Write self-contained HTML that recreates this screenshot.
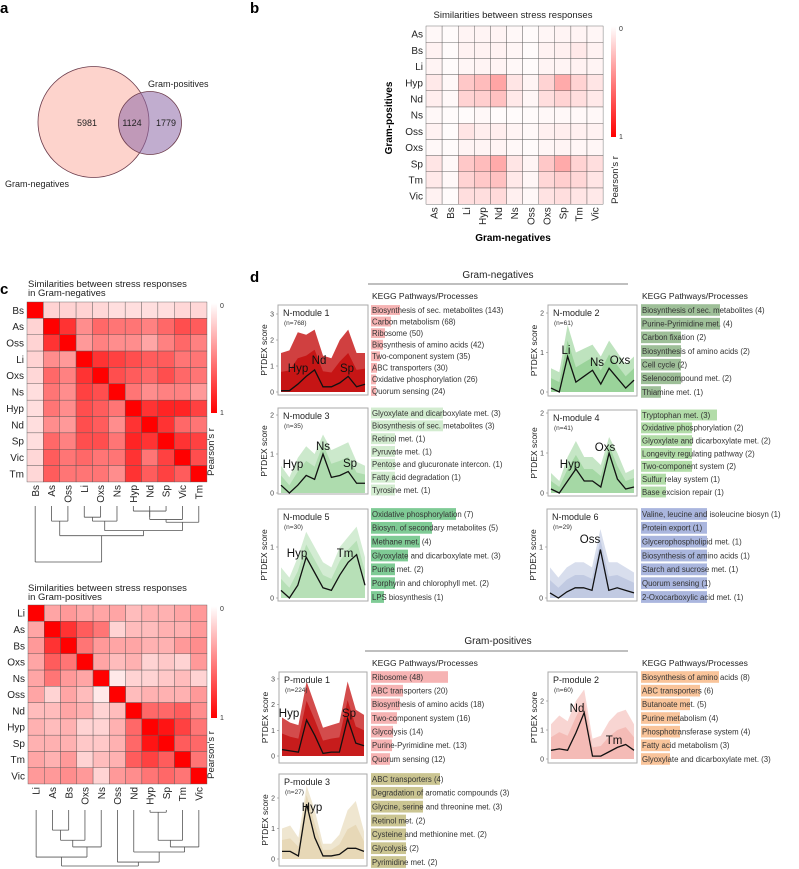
<!DOCTYPE html>
<html><head><meta charset="utf-8"><style>
html,body{margin:0;padding:0;background:#fff}
svg{display:block;font-family:"Liberation Sans",Arial,sans-serif}
</style></head><body>
<svg id="fig" width="799" height="869" viewBox="0 0 799 869" xmlns="http://www.w3.org/2000/svg">
<g>
<text x="0" y="13" font-size="15" font-weight="bold">a</text>
<circle cx="93.5" cy="122" r="55.5" fill="#fdd3cc" stroke="#6b3b4b" stroke-width="0.8"/>
<circle cx="150" cy="123" r="31.5" fill="#8e6aa8" fill-opacity="0.55" stroke="#6b3b4b" stroke-width="0.8"/>
<text x="87" y="126" font-size="9" text-anchor="middle" fill="#222">5981</text>
<text x="132" y="126" font-size="9" text-anchor="middle" fill="#222">1124</text>
<text x="166" y="126" font-size="9" text-anchor="middle" fill="#222">1779</text>
<text x="148" y="87" font-size="9" fill="#222">Gram-positives</text>
<text x="5" y="187" font-size="9" fill="#222">Gram-negatives</text>
</g>
<g id="gb">
<text x="250" y="13" font-size="15" font-weight="bold">b</text>
<text x="513" y="18" font-size="9.5" text-anchor="middle" fill="#222">Similarities between stress responses</text>
<text x="513" y="241" font-size="10" font-weight="bold" text-anchor="middle">Gram-negatives</text>
<text transform="translate(392,118) rotate(-90)" font-size="10" font-weight="bold" text-anchor="middle">Gram-positives</text>
</g>
<g id="gc">
<text x="0" y="294" font-size="15" font-weight="bold">c</text>
<text x="28" y="287" font-size="9.5" fill="#222">Similarities between stress responses</text>
<text x="28" y="296" font-size="9.5" fill="#222">in Gram-negatives</text>
<text x="28" y="591" font-size="9.5" fill="#222">Similarities between stress responses</text>
<text x="28" y="600" font-size="9.5" fill="#222">in Gram-positives</text>
</g>
<g id="gd">
<text x="250" y="282" font-size="15" font-weight="bold">d</text>
<text x="498" y="278" font-size="10" text-anchor="middle" fill="#222">Gram-negatives</text>
<line x1="368" y1="284" x2="628" y2="284" stroke="#555" stroke-width="0.8"/>
<text x="498" y="644" font-size="10" text-anchor="middle" fill="#222">Gram-positives</text>
<line x1="365" y1="651" x2="628" y2="651" stroke="#555" stroke-width="0.8"/>
</g>
</svg>
<script>
const NS='http://www.w3.org/2000/svg';
// ---------- data ----------
const bRows=['As','Bs','Li','Hyp','Nd','Ns','Oss','Oxs','Sp','Tm','Vic'];
const bCols=['As','Bs','Li','Hyp','Nd','Ns','Oss','Oxs','Sp','Tm','Vic'];
const bVals=[
[.03,.02,.05,.05,.05,.03,.02,.04,.05,.05,.04],
[.06,.02,.06,.06,.06,.04,.02,.06,.07,.10,.06],
[.05,.02,.04,.05,.05,.03,.02,.05,.05,.06,.05],
[.10,.03,.25,.30,.40,.12,.05,.20,.38,.20,.12],
[.08,.03,.20,.22,.28,.10,.04,.15,.20,.15,.10],
[.03,.02,.02,.03,.02,.02,.02,.03,.03,.03,.03],
[.06,.02,.12,.08,.08,.05,.03,.07,.08,.07,.06],
[.03,.02,.05,.05,.05,.03,.02,.04,.05,.04,.04],
[.12,.03,.25,.30,.38,.12,.05,.25,.38,.20,.15],
[.10,.03,.20,.25,.28,.10,.04,.18,.22,.18,.12],
[.06,.02,.15,.15,.17,.07,.03,.13,.15,.12,.10]];
const c1Labels=['Bs','As','Oss','Li','Oxs','Ns','Hyp','Nd','Sp','Vic','Tm'];
const c1Vals=[
[1,.2,.2,.2,.18,.15,.15,.15,.15,.18,.18],
[.2,1,.85,.5,.65,.6,.6,.55,.65,.75,.7],
[.2,.85,1,.45,.55,.5,.5,.4,.55,.65,.55],
[.2,.5,.45,1,.85,.8,.75,.7,.7,.6,.6],
[.18,.65,.55,.85,1,.75,.7,.65,.75,.65,.6],
[.15,.6,.5,.8,.75,1,.6,.5,.55,.55,.45],
[.15,.6,.5,.75,.7,.6,1,.85,.9,.9,.8],
[.15,.5,.45,.75,.7,.5,.85,1,.85,.65,.6],
[.15,.65,.55,.75,.75,.6,.9,.85,1,.85,.8],
[.18,.7,.6,.65,.6,.6,.85,.6,.8,1,.75],
[.18,.7,.6,.6,.6,.5,.85,.7,.8,.7,1]];
const c2Labels=['Li','As','Bs','Oxs','Ns','Oss','Nd','Hyp','Sp','Tm','Vic'];
const c2Vals=[
[1,.4,.45,.4,.4,.4,.3,.35,.35,.4,.45],
[.4,1,.85,.7,.6,.2,.3,.3,.35,.35,.45],
[.45,.85,1,.6,.45,.4,.4,.35,.35,.45,.5],
[.4,.7,.6,1,.4,.3,.35,.2,.25,.2,.45],
[.4,.6,.45,.4,1,.1,.2,.2,.25,.3,.2],
[.4,.2,.4,.3,.1,1,.3,.35,.35,.35,.45],
[.3,.3,.4,.35,.2,.3,1,.65,.65,.7,.5],
[.35,.3,.35,.2,.2,.35,.65,1,.95,.8,.6],
[.35,.35,.35,.25,.25,.35,.65,.95,1,.7,.65],
[.4,.35,.45,.2,.3,.35,.7,.8,.7,1,.6],
[.45,.45,.5,.45,.2,.45,.5,.6,.65,.6,1]];
const c1Tree=[0,[[1,2,0.27],[[[3,4,0.2],5,0.27],[[[7,[6,8,0.09],0.2],9,0.24],10,0.29],0.44],0.53],1.0];
const c2Tree=[[0,[[[1,2,0.36],3,0.54],4,0.66],0.84],[5,[6,[[[7,8,0.04],9,0.54],10,0.66],0.75],0.93],1.0];

// module means (PTDEX score across 11 conditions) and upper envelopes of member profiles
const n1Mean=[0.05,0.05,0.3,0.6,0.85,0.2,0.2,0.35,0.6,0.2,0.3];
const n1Upper=[1.5,1.6,2.3,2.2,2.4,1.4,1.3,2.0,2.4,1.5,1.5];
const n2Mean=[0.1,0,0.9,0.25,0.4,0.55,0.2,0.6,0.35,0.1,0.3];
const n2Upper=[0.6,0.5,1.7,1.0,1.1,1.2,0.9,1.3,1.0,0.7,0.9];
const n3Mean=[0.2,0,0.2,0.45,0.35,1.0,0.4,0.45,0.55,0.25,0.25];
const n3Upper=[0.7,0.4,0.9,1.2,1.0,1.5,1.1,1.2,1.3,0.8,0.7];
const n4Mean=[0.1,0,0.3,0.6,0.3,0.3,0.15,1.0,0.35,0.1,0.15];
const n4Upper=[0.5,0.3,0.9,1.3,0.9,0.9,0.7,1.4,1.0,0.5,0.6];
const n5Mean=[0.15,0,0.25,0.8,0.5,0.2,0.15,0.45,0.7,0.85,0.25];
const n5Upper=[0.6,0.4,0.8,1.3,1.0,0.7,0.6,1.0,1.2,1.4,0.8];
const n6Mean=[0.1,0,0.12,0.2,0.2,0.15,0.95,0.15,0.2,0.15,0.1];
const n6Upper=[0.6,0.4,0.6,0.7,0.7,0.6,1.35,0.7,0.7,0.6,0.5];
const p1Mean=[0.25,0.2,0.15,1.4,0.8,0.1,0.15,0.15,1.45,0.5,0.4];
const p1Upper=[1.5,1.3,1.2,2.9,2.0,1.1,1.2,1.3,2.9,1.8,1.6];
const p2Mean=[0.3,0.35,0.3,0.9,1.6,0.1,0.1,0.25,0.4,0.5,0.3];
const p2Upper=[1.2,1.5,1.3,2.0,2.4,0.7,0.8,1.3,1.6,1.7,1.2];
const p3Mean=[0.25,0.25,0.1,1.8,0.7,0.1,0.1,0.15,0.35,0.35,0.25];
const p3Upper=[1.0,1.1,0.7,2.4,1.6,0.5,0.5,0.8,1.6,1.9,0.9];

const n1Kegg=['Biosynthesis of sec. metabolites (143)','Carbon metabolism (68)','Ribosome (50)','Biosynthesis of amino acids (42)','Two-component system (35)','ABC transporters (30)','Oxidative phosphorylation (26)','Quorum sensing (24)'];
const n1Bars=[29,20,14,12,9,6,5,5];
const n2Kegg=['Biosynthesis of sec. metabolites (4)','Purine-Pyrimidine met. (4)','Carbon fixation (2)','Biosynthesis of amino acids (2)','Cell cycle (2)','Selenocompound met. (2)','Thiamine met. (1)'];
const n2Bars=[79,79,40,40,40,40,20];
const n3Kegg=['Glyoxylate and dicarboxylate met. (3)','Biosynthesis of sec. metabolites (3)','Retinol met. (1)','Pyruvate met. (1)','Pentose and glucuronate intercon. (1)','Fatty acid degradation (1)','Tyrosine met. (1)'];
const n3Bars=[72,72,24,24,24,24,24];
const n4Kegg=['Tryptophan met. (3)','Oxidative phosphorylation (2)','Glyoxylate and dicarboxylate met. (2)','Longevity regulating pathway (2)','Two-component system (2)','Sulfur relay system (1)','Base excision repair (1)'];
const n4Bars=[76,51,51,51,51,25,25];
const n5Kegg=['Oxidative phosphorylation (7)','Biosyn. of secondary metabolites (5)','Methane met. (4)','Glyoxylate and dicarboxylate met. (3)','Purine met. (2)','Porphyrin and chlorophyll met. (2)','LPS biosynthesis (1)'];
const n5Bars=[85,61,49,37,24,24,13];
const n6Kegg=['Valine, leucine and isoleucine biosyn (1)','Protein export (1)','Glycerophospholipid met. (1)','Biosynthesis of amino acids (1)','Starch and sucrose met. (1)','Quorum sensing (1)','2-Oxocarboxylic acid met. (1)'];
const n6Bars=[66,66,66,66,66,66,66];
const p1Kegg=['Ribosome (48)','ABC transporters (20)','Biosynthesis of amino acids (18)','Two-component system (16)','Glycolysis (14)','Purine-Pyrimidine met. (13)','Quorum sensing (12)'];
const p1Bars=[77,32,29,26,22,21,19];
const p2Kegg=['Biosynthesis of amino acids (8)','ABC transporters (6)','Butanoate met. (5)','Purine metabolism (4)','Phosphotransferase system (4)','Fatty acid metabolism (3)','Glyoxylate and dicarboxylate met. (3)'];
const p2Bars=[78,59,49,39,39,29,29];
const p3Kegg=['ABC transporters (4)','Degradation of aromatic compounds (3)','Glycine, serine and threonine met. (3)','Retinol met. (2)','Cysteine and methionine met. (2)','Glycolysis (2)','Pyrimidine met. (2)'];
const p3Bars=[69,52,52,35,35,35,35];

// ---------- helpers ----------
function mk(parent,tag,attrs,text){const e=document.createElementNS(NS,tag);for(const k in attrs)e.setAttribute(k,attrs[k]);if(text!==undefined)e.textContent=text;parent.appendChild(e);return e;}
function heat(v){const g=Math.round(255*Math.pow(1-v,0.85));return 'rgb(255,'+g+','+g+')';}

function heatmap(parent,name,x0,y0,cw,ch,rows,cols,vals,labSize){
  const g=mk(parent,'g',{});
  
  
  vals.forEach((row,i)=>row.forEach((v,j)=>{
    const r=mk(g,'rect',{x:x0+j*cw,y:y0+i*ch,width:cw,height:ch,fill:heat(v),stroke:'#555','stroke-width':0.4});
    
    
  }));
  rows.forEach((l,i)=>{
    const t=mk(g,'text',{x:x0-3,y:y0+(i+0.5)*ch+3.6,'font-size':labSize,'text-anchor':'end',fill:'#222'},l);
    
    
  });
  cols.forEach((l,j)=>{
    const cx=x0+(j+0.5)*cw+3.6, cy=y0+rows.length*ch+3;
    const t=mk(g,'text',{transform:'translate('+cx+','+cy+') rotate(-90)','font-size':labSize,'text-anchor':'end',fill:'#222'},l);
    
    
  });
}
function colorbar(parent,name,x,y,w,h,titleX,titleY){
  const g=mk(parent,'g',{});
  
  
  const id='grad'+name;
  const defs=mk(g,'defs',{});
  const lg=mk(defs,'linearGradient',{id:id,x1:0,y1:0,x2:0,y2:1});
  mk(lg,'stop',{offset:0,'stop-color':'#fff'});
  mk(lg,'stop',{offset:1,'stop-color':'#f00'});
  mk(g,'rect',{x:x,y:y,width:w,height:h,fill:'url(#'+id+')'});
  mk(g,'text',{x:x+w+3,y:y+5,'font-size':7,fill:'#333'},'0');
  mk(g,'text',{x:x+w+3,y:y+h+2,'font-size':7,fill:'#333'},'1');
  const t=mk(g,'text',{transform:'translate('+titleX+','+titleY+') rotate(-90)','font-size':9.5,'text-anchor':'middle',fill:'#222'},"Pearson's r");
  
  
}
function dendro(parent,name,tree,x0,cw,yLeaf,yRoot){
  const g=mk(parent,'g',{stroke:'#555','stroke-width':0.8,fill:'none'});
  
  
  const ys=d=>yLeaf+d*(yRoot-yLeaf);
  function walk(n){
    if(typeof n==='number') return {x:x0+(n+0.5)*cw,y:yLeaf};
    const a=walk(n[0]),b=walk(n[1]),y=ys(n[2]);
    mk(g,'line',{x1:a.x,y1:a.y,x2:a.x,y2:y});
    mk(g,'line',{x1:b.x,y1:b.y,x2:b.x,y2:y});
    mk(g,'line',{x1:a.x,y1:y,x2:b.x,y2:y});
    return {x:(a.x+b.x)/2,y:y};
  }
  walk(tree);
}

// ---------- panel b ----------
const gb=document.getElementById('gb');
heatmap(gb,'heatmap-b',426,26,16.1,16.2,bRows,bCols,bVals,10);
colorbar(gb,'colorbar-b',611,26,5,111,618,180);

// ---------- panel c ----------
const gc=document.getElementById('gc');
heatmap(gc,'heatmap-negatives',27,302,16.36,16.36,c1Labels,c1Labels,c1Vals,10);
colorbar(gc,'colorbar-negatives',211,303,6,110,214,452);
dendro(gc,'dendrogram-negatives',c1Tree,27,16.36,506,562);
heatmap(gc,'heatmap-positives',28,605,16.27,16.27,c2Labels,c2Labels,c2Vals,10);
colorbar(gc,'colorbar-positives',211,606,6,112,214,755);
dendro(gc,'dendrogram-positives',c2Tree,28,16.27,810,866);

// ---------- panel d ----------
const gd=document.getElementById('gd');
function module(cfg){
  const g=mk(gd,'g',{});
  
  
  const {bx,by,bw,bh,y0,ppu}=cfg;
  mk(g,'rect',{x:bx,y:by,width:bw,height:bh,fill:'#fff',stroke:'#aaa','stroke-width':1});
  const n=cfg.mean.length;
  const xs=i=>bx+3+i*(bw-6)/(n-1);
  const ys=v=>y0-v*ppu;
  const clip='clip-'+cfg.name;
  const cp=mk(mk(g,'defs',{}),'clipPath',{id:clip});
  mk(cp,'rect',{x:bx,y:by,width:bw,height:bh});
  const pg=mk(g,'g',{'clip-path':'url(#'+clip+')'});
  let pts=cfg.upper.map((v,i)=>xs(i)+','+ys(v)).join(' ');
  pts+=' '+cfg.upper.map((v,i)=>xs(n-1-i)+','+ys(0)).join(' ');
  const band=mk(pg,'polygon',{points:pts,fill:cfg.color,'fill-opacity':cfg.op});
  
  
  // inner denser band
  let pts2=cfg.upper.map((v,i)=>xs(i)+','+ys((v+cfg.mean[i])/2)).join(' ');
  pts2+=' '+cfg.upper.map((v,i)=>xs(n-1-i)+','+ys(0)).join(' ');
  mk(pg,'polygon',{points:pts2,fill:cfg.color,'fill-opacity':cfg.op*0.9});
  const ml=mk(pg,'polyline',{points:cfg.mean.map((v,i)=>xs(i)+','+ys(v)).join(' '),fill:'none',stroke:'#111','stroke-width':1.3});
  
  
  cfg.ticks.forEach(t=>{
    mk(g,'line',{x1:bx-2,x2:bx,y1:ys(t),y2:ys(t),stroke:'#888','stroke-width':0.6});
    mk(g,'text',{x:bx-4,y:ys(t)+2.5,'font-size':7,'text-anchor':'end',fill:'#444'},String(t));
  });
  const yt=mk(g,'text',{transform:'translate('+(bx-11)+','+(by+bh/2)+') rotate(-90)','font-size':8.5,'text-anchor':'middle',fill:'#222'},'PTDEX score');
  
  
  mk(g,'text',{x:bx+5,y:by+11,'font-size':9,fill:'#222'},cfg.title);
  mk(g,'text',{x:bx+6,y:by+20,'font-size':6.5,fill:'#333'},cfg.n);
  cfg.peaks.forEach(p=>mk(g,'text',{x:p[1],y:p[2],'font-size':11.5,'text-anchor':'middle',fill:'#111'},p[0]));
  // KEGG list
  const kx=cfg.kx, k=cfg.kegg.length;
  if(cfg.header){
    const h=mk(g,'text',{x:kx,y:by-6,'font-size':8.5,fill:'#222'},'KEGG Pathways/Processes');
    
    
  }
  const step=(bh-9)/(k-1), barH=step*0.85;
  cfg.kegg.forEach((t,i)=>{
    const cy=by+5+i*step;
    const b=mk(g,'rect',{x:kx-1,y:cy-barH/2,width:cfg.bars[i],height:barH,fill:cfg.kcolor});
    
    
    mk(g,'text',{x:kx,y:cy+2.8,'font-size':7.8,fill:'#333'},t);
  });
}
const LX=278, RX=548;
module({name:'n-module-1',title:'N-module 1',n:'(n=768)',bx:LX,by:305,bw:90,bh:90,y0:392,ppu:26,ticks:[0,1,2,3],mean:n1Mean,upper:n1Upper,color:'#c00000',op:0.75,peaks:[['Hyp',298,372],['Nd',319,364],['Sp',347,372]],kegg:n1Kegg,bars:n1Bars,kx:372,kcolor:'#f6b3b3',header:true});
module({name:'n-module-2',title:'N-module 2',n:'(n=61)',bx:RX,by:305,bw:89,bh:91,y0:392,ppu:39.5,ticks:[0,1,2],mean:n2Mean,upper:n2Upper,color:'#5cb85c',op:0.4,peaks:[['Li',566,354],['Ns',597,366],['Oxs',620,364]],kegg:n2Kegg,bars:n2Bars,kx:642,kcolor:'#9ebf98',header:true});
module({name:'n-module-3',title:'N-module 3',n:'(n=35)',bx:LX,by:408,bw:90,bh:86,y0:493,ppu:39,ticks:[0,1,2],mean:n3Mean,upper:n3Upper,color:'#6cc06c',op:0.35,peaks:[['Hyp',293,468],['Ns',323,450],['Sp',350,467]],kegg:n3Kegg,bars:n3Bars,kx:372,kcolor:'#d3ecd0'});
module({name:'n-module-4',title:'N-module 4',n:'(n=41)',bx:RX,by:410,bw:89,bh:86,y0:493,ppu:40,ticks:[0,1,2],mean:n4Mean,upper:n4Upper,color:'#5cb85c',op:0.35,peaks:[['Hyp',570,468],['Oxs',605,451]],kegg:n4Kegg,bars:n4Bars,kx:642,kcolor:'#b2dca8'});
module({name:'n-module-5',title:'N-module 5',n:'(n=30)',bx:LX,by:509,bw:90,bh:92,y0:598,ppu:51,ticks:[0,1],mean:n5Mean,upper:n5Upper,color:'#6cc06c',op:0.3,peaks:[['Hyp',297,557],['Tm',345,557]],kegg:n5Kegg,bars:n5Bars,kx:372,kcolor:'#7fcb95'});
module({name:'n-module-6',title:'N-module 6',n:'(n=29)',bx:RX-1,by:509,bw:90,bh:92,y0:598,ppu:51,ticks:[0,1],mean:n6Mean,upper:n6Upper,color:'#8fa0cc',op:0.35,peaks:[['Oss',590,543]],kegg:n6Kegg,bars:n6Bars,kx:642,kcolor:'#aab6de'});
module({name:'p-module-1',title:'P-module 1',n:'(n=224)',bx:279,by:672,bw:88,bh:91,y0:756,ppu:25.7,ticks:[0,1,2,3],mean:p1Mean,upper:p1Upper,color:'#c00000',op:0.7,peaks:[['Hyp',289,717],['Sp',349,717]],kegg:p1Kegg,bars:p1Bars,kx:372,kcolor:'#f6b3b3',header:true});
module({name:'p-module-2',title:'P-module 2',n:'(n=60)',bx:RX,by:672,bw:89,bh:91,y0:759,ppu:29,ticks:[0,1,2],mean:p2Mean,upper:p2Upper,color:'#e8756a',op:0.3,peaks:[['Nd',577,712],['Tm',614,744]],kegg:p2Kegg,bars:p2Bars,kx:642,kcolor:'#f9c49a',header:true});
module({name:'p-module-3',title:'P-module 3',n:'(n=27)',bx:279,by:774,bw:88,bh:92,y0:859,ppu:30.5,ticks:[0,1,2],mean:p3Mean,upper:p3Upper,color:'#d8c08a',op:0.4,peaks:[['Hyp',312,811]],kegg:p3Kegg,bars:p3Bars,kx:372,kcolor:'#cbc592'});
</script>
</body></html>
